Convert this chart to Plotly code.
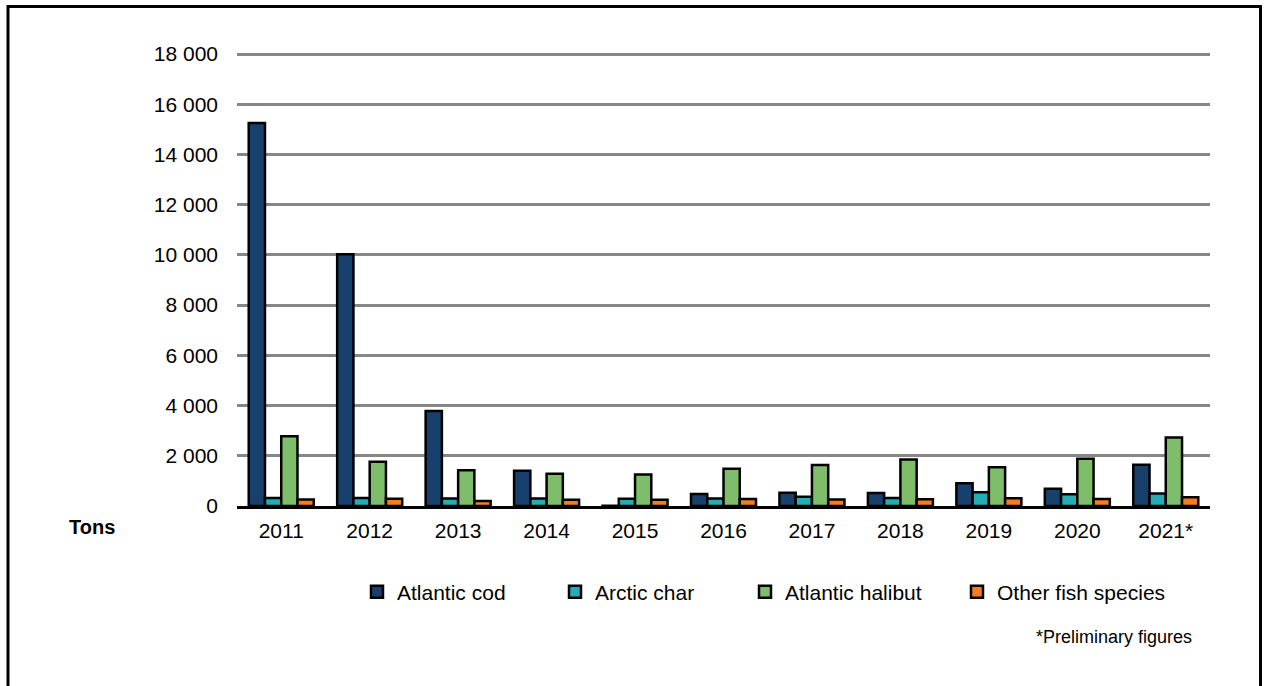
import plotly.graph_objects as go

years = ["2011", "2012", "2013", "2014", "2015", "2016", "2017", "2018", "2019", "2020", "2021*"]
atlantic_cod = [15250, 10030, 3780, 1400, 10, 480, 530, 520, 910, 690, 1640]
arctic_char = [320, 320, 300, 300, 290, 300, 370, 320, 550, 470, 500]
atlantic_halibut = [2780, 1760, 1420, 1280, 1250, 1480, 1630, 1850, 1540, 1880, 2730]
other_species = [260, 290, 200, 250, 250, 280, 260, 270, 310, 280, 350]

series = [
    ("Atlantic cod", atlantic_cod, "#17406D", "legend"),
    ("Arctic char", arctic_char, "#26ACB5", "legend2"),
    ("Atlantic halibut", atlantic_halibut, "#7EBE6A", "legend3"),
    ("Other fish species", other_species, "#F57D20", "legend4"),
]

FONT = "Liberation Sans, Arial, sans-serif"

fig = go.Figure()
for name, vals, color, lg in series:
    fig.add_trace(go.Bar(
        x=years, y=vals, name=name, legend=lg,
        marker=dict(color=color, line=dict(color="black", width=2.5)),
    ))

W, H = 1265, 686
# plot area in screen pixels: x 237..1210, y 52..506 (18 000 gridline at y=54)
L, T = 237, 52
R = W - 1210
B = H - 506
pw = W - L - R
ph = H - T - B

def px2x(px):
    return (px - L) / pw

def py2y(py):
    return (H - B - py) / ph

legend_common = dict(orientation="h", yanchor="middle", xanchor="left",
                     font=dict(family=FONT, size=21, color="black"),
                     bgcolor="rgba(0,0,0,0)", borderwidth=0)
leg_x = [357, 555, 745, 957]
leg_y = 592

fig.update_layout(
    width=W, height=H,
    margin=dict(l=L, r=R, t=T, b=B),
    paper_bgcolor="white", plot_bgcolor="white",
    barmode="group", bargap=0.265, bargroupgap=0,
    separators=". ",
    font=dict(family=FONT, size=21, color="black"),
    showlegend=True,
    legend=dict(x=px2x(leg_x[0]), y=py2y(leg_y), **legend_common),
    legend2=dict(x=px2x(leg_x[1]), y=py2y(leg_y), **legend_common),
    legend3=dict(x=px2x(leg_x[2]), y=py2y(leg_y), **legend_common),
    legend4=dict(x=px2x(leg_x[3]), y=py2y(leg_y), **legend_common),
    xaxis=dict(showline=True, linecolor="black", linewidth=3, ticks="",
               showgrid=False, tickfont=dict(size=21, color="black"),
               ticklabelstandoff=4),
    yaxis=dict(range=[0, 18080], tick0=0, dtick=2000, tickformat=",d",
               showgrid=True, gridcolor="#878787", gridwidth=2.5,
               zeroline=False, showline=False, ticks="",
               tickfont=dict(size=21, color="black"), ticklabelstandoff=18),
    shapes=[dict(type="rect", xref="paper", yref="paper",
                 x0=px2x(8), x1=px2x(1260.5), y0=py2y(730), y1=py2y(6.5),
                 line=dict(color="black", width=3), fillcolor="rgba(0,0,0,0)",
                 layer="above")],
    annotations=[
        dict(text="<b>Tons</b>", xref="paper", yref="paper", x=px2x(92), y=py2y(527),
             xanchor="center", yanchor="middle", showarrow=False,
             font=dict(family=FONT, size=20, color="black")),
        dict(text="*Preliminary figures", xref="paper", yref="paper", x=px2x(1194), y=py2y(637),
             xanchor="right", yanchor="middle", showarrow=False,
             font=dict(family=FONT, size=18, color="black")),
    ],
)

fig.write_html(
    "out.html",
    config={"displayModeBar": False},
    post_script="document.body.style.margin='0';document.documentElement.style.overflow='hidden';document.body.style.overflow='hidden';",
)
